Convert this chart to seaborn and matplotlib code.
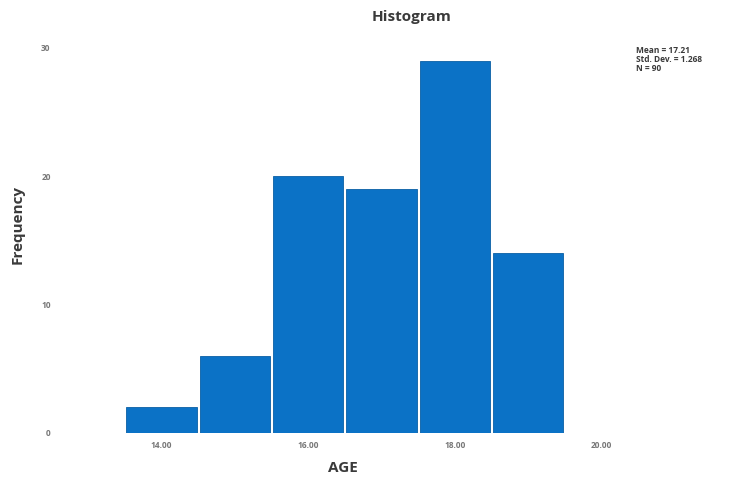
import matplotlib
matplotlib.use("Agg")
import matplotlib.pyplot as plt
import numpy as np
import pandas as pd
import seaborn as sns

# Values
AGES = [14, 15, 16, 17, 18, 19]
COUNTS = [2, 6, 20, 19, 29, 14]
X_TICKS = [14, 16, 18, 20]
X_TICK_LABELS = ["14.00", "16.00", "18.00", "20.00"]
Y_TICKS = [0, 10, 20, 30]
STATS_LINES = ["Mean = 17.21", "Std. Dev. = 1.268", "N = 90"]

BAR_COLOR = "#0b72c6"
TEXT_COLOR = "#3a3a3a"


def main():
    sns.set_style("white")
    plt.rcParams["font.family"] = ["Open Sans", "DejaVu Sans"]

    data = pd.DataFrame({"AGE": AGES, "Frequency": COUNTS})

    figure = plt.figure(figsize=(7.31, 4.87), dpi=100)
    axis = figure.add_axes([0.0808, 0.111, 0.762, 0.804])
    sns.histplot(
        data=data,
        x="AGE",
        weights="Frequency",
        discrete=True,
        shrink=0.96,
        color=BAR_COLOR,
        alpha=1.0,
        edgecolor="#0a5fa5",
        linewidth=0.6,
        ax=axis,
    )

    axis.set_xlim(12.6, 20.2)
    axis.set_ylim(0, 30.5)
    axis.set_xticks(X_TICKS, X_TICK_LABELS)
    axis.set_yticks(Y_TICKS)
    axis.tick_params(axis="both", length=0, labelsize=6, labelcolor="#777777")
    for label in axis.get_xticklabels() + axis.get_yticklabels():
        label.set_fontweight("bold")
    axis.tick_params(axis="x", pad=6)
    axis.tick_params(axis="y", pad=6)
    axis.set_xlabel("")
    axis.set_ylabel("")
    sns.despine(ax=axis, left=True, bottom=True)

    figure.text(412 / 731, 1 - 17 / 487, "Histogram", ha="center", va="center",
                fontsize=11, fontweight="bold", color=TEXT_COLOR)
    figure.text(343 / 731, 1 - 468 / 487, "AGE", ha="center", va="center",
                fontsize=11, fontweight="bold", color=TEXT_COLOR)
    figure.text(18 / 731, 1 - 225 / 487, "Frequency", ha="center", va="center",
                rotation=90, fontsize=11, fontweight="bold", color=TEXT_COLOR)
    figure.text(636 / 731, 1 - 46 / 487, "\n".join(STATS_LINES), ha="left",
                va="top", fontsize=6, fontweight="bold", color=TEXT_COLOR,
                linespacing=1.0)

    figure.savefig("out.png", dpi=100)


if __name__ == "__main__":
    main()
